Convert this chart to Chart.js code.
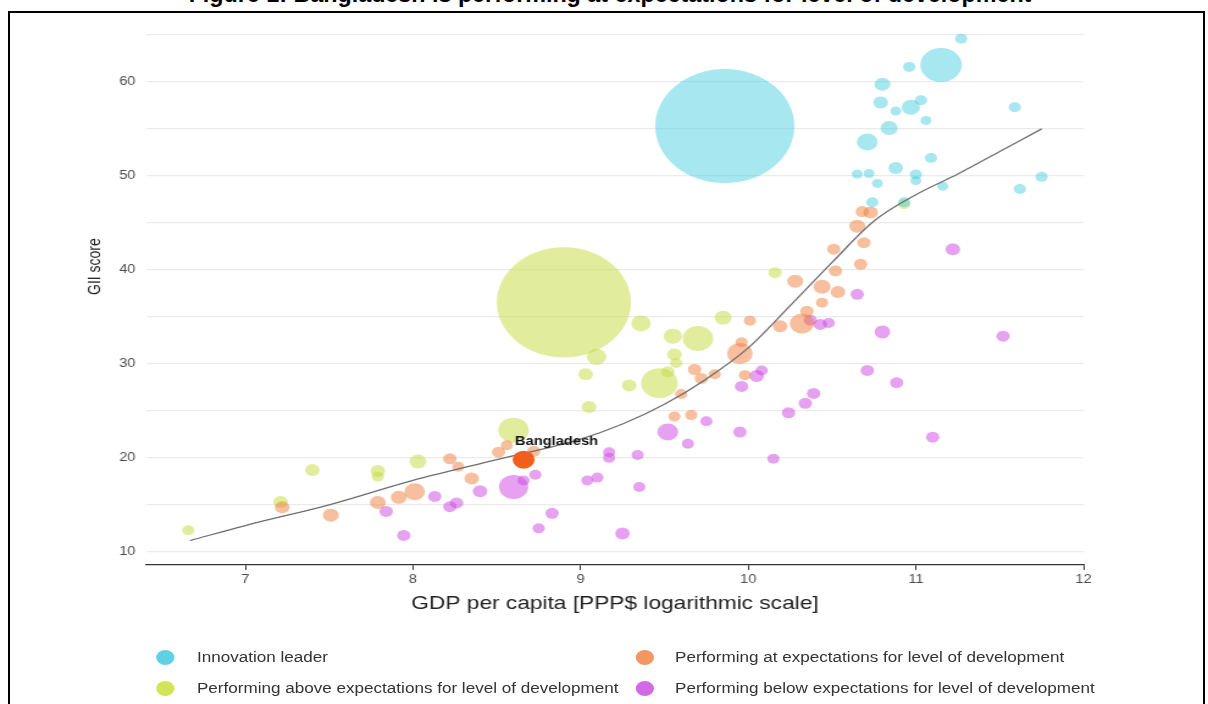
<!DOCTYPE html>
<html>
<head>
<meta charset="utf-8">
<script src="https://cdn.jsdelivr.net/npm/chart.js@4.4.0/dist/chart.umd.min.js"></script>
<style>
  body { margin: 0; background: #fff; width: 1208px; height: 704px; overflow: hidden; position: relative; font-family: "Liberation Sans", Arial, sans-serif; }
  #caption { position: absolute; left: 0; top: -18px; width: 1220px; text-align: center; font: bold 23.3px "Liberation Sans", Arial, sans-serif; line-height: 24px; color: #000; white-space: nowrap; }
  #frame { position: absolute; left: 8px; top: 11px; width: 1193px; height: 720px; border: 2px solid #000; }
  #stretch { position: absolute; left: 0; top: -48px; width: 990px; height: 752px; transform: scaleX(1.2202); transform-origin: 0 0; }
  #legend { position: absolute; left: 0; top: 0; width: 990px; height: 704px; transform: scaleX(1.2202); transform-origin: 0 0; }
  .dot { position: absolute; width: 15px; height: 15px; border-radius: 50%; }
  .lbl { position: absolute; font-size: 14px; line-height: 16px; color: #333; white-space: nowrap; }
</style>
</head>
<body>
<div id="caption">Figure 1: Bangladesh is performing at expectations for level of development</div>
<div id="frame"></div>
<div id="stretch">
  <canvas id="gii-chart"></canvas>
</div>
<div id="legend"></div>
<script>
// Innovation leaders
const leaderX = [9.86, 11.15, 11.27, 10.96, 10.80, 10.79, 10.88, 10.97, 11.03, 11.06, 10.84, 10.71, 11.09, 10.88, 11.00, 11.00, 10.65, 10.72, 10.77, 11.16, 10.74, 10.93, 11.59, 11.75, 11.62];
const leaderY = [55.3, 61.8, 64.6, 61.6, 59.75, 57.8, 56.9, 57.3, 58.05, 55.9, 55.1, 53.6, 51.9, 50.85, 50.15, 49.5, 50.2, 50.25, 49.2, 48.9, 47.2, 47.2, 57.3, 49.9, 48.6];
const leaderR = [57, 17, 5, 5, 6.5, 6, 4.5, 7.5, 5, 4.5, 7, 8.5, 5, 6, 5, 4.5, 4.5, 4.5, 4.5, 4.5, 5, 5, 5, 5, 5];

// performing at expectations
const atX = [10.68, 10.73, 10.65, 10.69, 10.51, 10.67, 10.52, 10.44, 10.535, 10.44, 10.28, 10.35, 10.01, 10.19, 10.32, 9.96, 9.95, 9.80, 9.98, 9.68, 9.72, 9.60, 9.56, 9.66, 8.22, 8.51, 8.56, 8.27, 8.35, 8.01, 7.915, 7.79, 7.51, 7.22, 8.72];
const atY = [46.2, 46.1, 44.65, 42.9, 42.2, 40.6, 39.9, 38.2, 37.65, 36.5, 38.8, 35.6, 34.6, 34.0, 34.3, 32.3, 31.1, 28.9, 28.8, 29.4, 28.45, 26.8, 24.4, 24.55, 19.9, 20.6, 21.35, 19.05, 17.8, 16.4, 15.8, 15.25, 13.9, 14.75, 20.7];
const atR = [5.5, 6, 6.5, 5.5, 5.5, 5.5, 5.5, 7, 6, 5, 6.5, 5.5, 5, 6, 10, 5, 10.5, 5, 5, 5.5, 5.5, 5, 5, 5, 5.5, 5.5, 5, 5, 6, 8.5, 6.5, 6.5, 6.5, 6, 5.5];

// performing above expectations
const aboveX = [8.90, 9.36, 9.55, 9.70, 9.85, 10.16, 9.095, 9.03, 9.56, 9.57, 9.47, 9.52, 9.29, 9.05, 8.60, 8.03, 7.40, 7.79, 7.79, 7.21, 6.66, 10.93];
const aboveY = [36.55, 34.3, 32.95, 32.7, 34.9, 39.7, 30.75, 28.9, 31.0, 30.1, 27.95, 29.15, 27.7, 25.4, 22.95, 19.6, 18.7, 18.6, 18.0, 15.3, 12.3, 47.0];
const aboveR = [55, 8, 7.5, 12.5, 7, 5.5, 8, 6, 6, 5, 15, 5.5, 6, 6, 12.5, 7, 6, 6, 5, 6, 5, 5];

// performing below expectations
const belowX = [7.84, 7.945, 8.13, 8.22, 8.26, 8.40, 8.60, 8.66, 8.73, 8.75, 8.83, 9.17, 9.17, 9.04, 9.10, 9.25, 9.34, 9.35, 9.52, 9.64, 9.75, 9.95, 10.15, 10.24, 9.96, 10.05, 10.08, 10.37, 10.43, 10.48, 10.65, 10.80, 11.22, 11.52, 10.71, 10.885, 10.39, 10.34, 11.10];
const belowY = [14.3, 11.75, 15.9, 14.8, 15.2, 16.45, 16.9, 17.6, 18.2, 12.5, 14.1, 20.6, 20.0, 17.6, 17.9, 11.95, 20.3, 16.9, 22.75, 21.5, 23.9, 22.75, 19.9, 24.8, 27.6, 28.7, 29.3, 34.65, 34.2, 34.35, 37.4, 33.4, 42.2, 32.95, 29.3, 28.0, 26.85, 25.8, 22.2];
const belowR = [5.5, 5.5, 5.5, 5.5, 5.5, 6, 12, 5, 5, 5, 5.5, 5, 5, 5, 5, 6, 5, 5, 8.5, 5, 5, 5.5, 5, 5.5, 5.5, 6, 5, 5.5, 5.5, 5, 5.5, 6.5, 6, 5.5, 5.5, 5.5, 5.5, 5.5, 5.5];

// highlighted country
const highlightName = 'Bangladesh';
const highlightX = [8.66];
const highlightY = [19.8];
const highlightR = [9];

// smoothed trend
const trendX = [6.67, 7.0, 7.5, 8.0, 8.5, 9.0, 9.25, 9.5, 9.75, 10.0, 10.25, 10.5, 10.75, 11.0, 11.25, 11.5, 11.75];
const trendY = [11.2, 12.8, 15.0, 17.6, 19.8, 22.0, 23.6, 25.7, 28.4, 31.7, 36.2, 40.8, 45.2, 48.0, 50.2, 52.6, 55.0];

const groupLabels = ['Innovation leader', 'Performing at expectations for level of development', 'Performing above expectations for level of development', 'Performing below expectations for level of development'];

const xTickValues = [7, 8, 9, 10, 11, 12];
const xTickLabels = ['7', '8', '9', '10', '11', '12'];
const yGridValues = [10, 15, 20, 25, 30, 35, 40, 45, 50, 55, 60, 65];
const yTickLabels = ['10', '', '20', '', '30', '', '40', '', '50', '', '60', ''];

function toPoints(xs, ys, rs) {
    return xs.map((x, i) => ({ x: x, y: ys[i], r: rs[i] }));
}

Chart.defaults.font.family = '"Liberation Sans", Arial, sans-serif';

const labelPlugin = {
    id: 'countryLabel',
    afterDatasetsDraw(chart) {
        const pt = chart.getDatasetMeta(4).data[0];
        const ctx = chart.ctx;
        ctx.save();
        ctx.font = 'bold 12px "Liberation Sans", Arial, sans-serif';
        ctx.fillStyle = '#111';
        ctx.textAlign = 'center';
        ctx.fillText(highlightName, pt.x + 27, pt.y - 15);
        ctx.restore();
    }
};

const ctx = document.getElementById('gii-chart').getContext('2d');
window.giiChart = new Chart(ctx, {
    type: 'bubble',
    data: {
        datasets: [
            { label: groupLabels[0], data: toPoints(leaderX, leaderY, leaderR), backgroundColor: 'rgba(77, 208, 225, 0.5)', legendColor: 'rgba(77, 205, 225, 0.9)', borderWidth: 0, order: 3, clip: false },
            { label: groupLabels[1], data: toPoints(atX, atY, atR), backgroundColor: 'rgba(240, 128, 60, 0.5)', legendColor: 'rgba(242, 140, 80, 0.9)', borderWidth: 0, order: 3, clip: false },
            { label: groupLabels[2], data: toPoints(aboveX, aboveY, aboveR), backgroundColor: 'rgba(195, 220, 60, 0.5)', legendColor: 'rgba(205, 225, 70, 0.9)', borderWidth: 0, order: 3, clip: false },
            { label: groupLabels[3], data: toPoints(belowX, belowY, belowR), backgroundColor: 'rgba(205, 70, 225, 0.5)', legendColor: 'rgba(205, 90, 230, 0.9)', borderWidth: 0, order: 3, clip: false },
            { label: highlightName, data: toPoints(highlightX, highlightY, highlightR), backgroundColor: '#f0601a', borderWidth: 0, order: 1, clip: false },
            {
                type: 'line', label: 'trend',
                data: trendX.map((x, i) => ({ x: x, y: trendY[i] })),
                borderColor: '#6e6e6e', borderWidth: 1.3, pointRadius: 0,
                cubicInterpolationMode: 'monotone', fill: false, order: 2
            }
        ]
    },
    options: {
        responsive: true,
        maintainAspectRatio: false,
        animation: false,
        layout: { autoPadding: false, padding: { left: 66, right: 102, top: 6, bottom: 85 } },
        plugins: {
            legend: { display: false },
            tooltip: { enabled: false }
        },
        scales: {
            x: {
                type: 'linear',
                min: 6.41,
                max: 12,
                afterBuildTicks: (scale) => { scale.ticks = xTickValues.map(v => ({ value: v })); },
                afterFit: (scale) => { scale.height = 54; },
                ticks: {
                    autoSkip: false, maxRotation: 0, padding: 2,
                    color: '#4d4d4d', font: { size: 12 },
                    callback: (v, i) => xTickLabels[i]
                },
                grid: { drawOnChartArea: false, drawTicks: true, tickLength: 5, color: '#333', tickWidth: 1 },
                border: { display: true, color: '#333', width: 1.3 },
                title: { display: true, text: 'GDP per capita [PPP$ logarithmic scale]', color: '#222', font: { size: 18.6 } }
            },
            y: {
                min: 8.6,
                max: 72.1,
                afterBuildTicks: (scale) => { scale.ticks = yGridValues.map(v => ({ value: v })); },
                afterFit: (scale) => { scale.width = 54; },
                ticks: {
                    autoSkip: false, padding: 9,
                    color: '#4d4d4d', font: { size: 12 },
                    callback: (v, i) => yTickLabels[i]
                },
                grid: { color: '#ebebeb', lineWidth: 1.3, drawTicks: false },
                border: { display: false },
                title: { display: true, text: 'GII score', color: '#222', font: { size: 14 } }
            }
        }
    },
    plugins: [labelPlugin]
});

// legend in two columns, built from the datasets
const legendDots = [[135.2, 657], [528.9, 657], [135.2, 688], [528.9, 688]];
const legendText = [161.4, 553.2, 161.4, 553.2];
const legendEl = document.getElementById('legend');
window.giiChart.data.datasets.slice(0, 4).forEach((ds, i) => {
    const [cx, cy] = legendDots[i];
    const dot = document.createElement('div');
    dot.className = 'dot';
    dot.style.left = (cx - 7.5) + 'px';
    dot.style.top = (cy - 7.5) + 'px';
    dot.style.background = ds.legendColor;
    legendEl.appendChild(dot);
    const lbl = document.createElement('div');
    lbl.className = 'lbl';
    lbl.style.left = legendText[i] + 'px';
    lbl.style.top = (cy - 8) + 'px';
    lbl.textContent = ds.label;
    legendEl.appendChild(lbl);
});
</script>
</body>
</html>
